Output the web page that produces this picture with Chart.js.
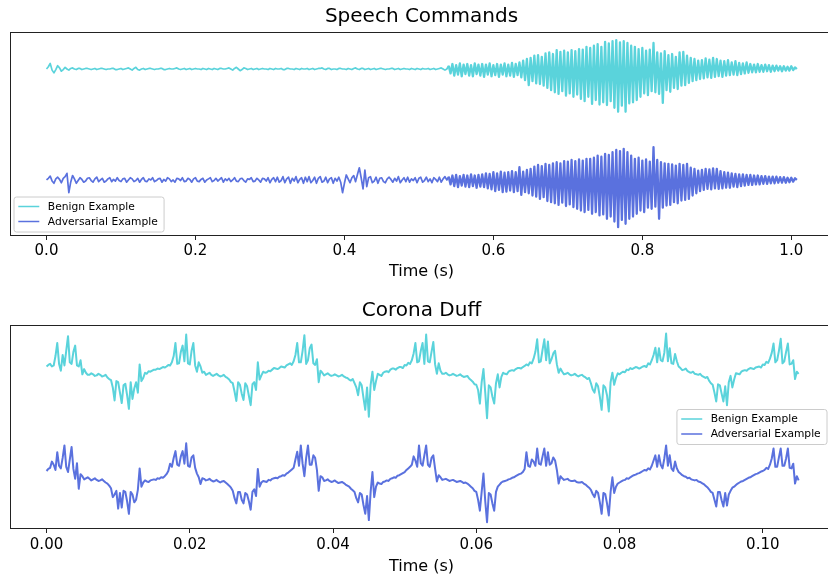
<!DOCTYPE html>
<html>
<head>
<meta charset="utf-8">
<title>Speech Commands / Corona Duff</title>
<script src="https://cdn.jsdelivr.net/npm/chart.js@4.4.1/dist/chart.umd.min.js"></script>
<style>
    html, body { margin: 0; padding: 0; background: #fff; overflow: hidden; }
    body { width: 828px; height: 578px; position: relative; }
    canvas { position: absolute; left: 0; }
    #speech { top: 0; }
    #corona { top: 290px; }
</style>
</head>
<body>
<canvas id="speech" width="840" height="290"></canvas>
<canvas id="corona" width="840" height="288"></canvas>
<script>
const FONT = '"DejaVu Sans", sans-serif';
const BENIGN_COLOR = '#5ad3db';
const ADV_COLOR = '#5a71de';
const SERIES_NAMES = ['Benign Example', 'Adversarial Example'];
const TRACE_OFFSET = 100;   // benign drawn at +offset, adversarial at -offset

// ---- Speech Commands (seconds), one value every 2.5 ms ----
// quiet part runs 0 .. 0.5375 s, loud part starts at 0.54 s
const speechStep = 0.0025;
const speechLoudStart = 0.54;
const speechTicks = [0, 0.2, 0.4, 0.6, 0.8, 1.0];

const speechBenignQuiet = [
    0, 4, 10, -2, -7, -1, 6, 2, -4, -1, 3, 0, -2, 1, 2, 0, -1, 1, 1, -1,
    0, 1, 1, 0, -1, 0, 1, -1, 0, 1, 1, 0, -1, 0, 0, 1, 1, -1, -1, 0,
    1, -1, 0, 1, 2, 0, -2, 1, 3, -1, -2, 0, 1, -1, 0, 1, 1, 0, -1, 0,
    0, 1, 1, -1, -1, 0, 1, 0, 0, 1, 2, 0, -1, 0, 1, -1, 0, 1, -1, 0,
    1, 0, 0, -1, 1, 0, -1, 1, 0, -1, 1, 0, -1, 1, 1, 0, 0, 1, 2, 0,
    -2, 1, 3, 0, -3, -1, 2, 1, -1, 0, 1, -1, 0, 1, -1, 0, 1, 0, 0, -1,
    1, 0, -1, 1, 0, 0, 1, -1, -1, 1, 1, 0, 0, -1, 1, 0, -1, 1, 0, 0,
    1, -1, 0, 1, -1, 0, 1, 1, 2, 0, -1, 1, 1, -1, 0, 0, -1, 1, 1, 0,
    0, -1, 1, 0, -1, 1, 2, 0, -1, 1, 1, -1, 0, 1, -1, 0, 1, -1, 0, 1,
    1, 0, -1, 0, 0, 1, 1, -1, 0, 1, -1, 0, 1, 0, 0, -1, 1, 0, -1, 1,
    0, -1, 1, 0, 0, 1, -1, 0, 1, -1, 0, 1, 2, 0, -2, 0
];
const speechBenignLoud = [
    6, -8, 9, -12, 7, -10, 10, -13, 8, -9,
    9, -12, 7, -13, 10, -9, 8, -12, 9, -14,
    8, -10, 10, -13, 7, -11, 9, -14, 8, -10,
    10, -13, 8, -12, 11, -14, 9, -11, 12, -15,
    15, -20, 18, -29, 20, -22, 24, -26, 25, -27,
    22, -30, 28, -34, 30, -38, 27, -42, 34, -45,
    31, -40, 33, -48, 30, -44, 34, -50, 32, -46,
    36, -54, 35, -58, 40, -50, 38, -63, 42, -56,
    45, -64, 40, -60, 49, -65, 46, -58, 50, -70,
    52, -77, 48, -66, 50, -77, 47, -62, 42, -60,
    40, -56, 36, -50, 38, -44, 33, -47, 35, -40,
    47, -42, 30, -45, 28, -61, 32, -38, 25, -41,
    27, -34, 22, -36, 30, -30, 31, -29, 24, -25,
    20, -22, 18, -20, 15, -18, 16, -17, 19, -15,
    17, -16, 20, -14, 18, -13, 15, -14, 14, -12,
    16, -11, 12, -10, 14, -11, 11, -9, 10, -8,
    12, -7, 9, -6, 8, -6, 9, -5, 7, -5,
    8, -4, 7, -5, 6, -4, 6, -3, 5, -4,
    5, -3, 4, -3, 5, -2, 3, 0
];
const speechAdvQuiet = [
    0, 3, 7, -2, -6, 2, 5, 1, -5, 3, 6, 12, -23, -4, 8, 2, -6, -1, 4, 1,
    -4, -2, 3, 4, -1, -4, 2, 5, -3, 0, 3, -4, -2, 2, 4, -3, 1, -2, 4, -1,
    -3, 2, 3, -4, 0, 4, 2, -3, -1, 3, -4, 1, 4, -2, -3, 2, 0, 4, -3, -1,
    2, 3, -4, 1, -2, 4, 2, -3, 0, -4, 3, 2, -1, 4, -3, -2, 3, 1, -4, 2,
    4, -2, -3, 1, 3, -4, 0, 2, 4, -3, -1, 3, -2, 1, 4, -4, 2, -1, 3, -3,
    0, 4, -2, -3, 2, 3, -1, -4, 2, 1, 4, -3, -2, 3, 0, -4, 3, 2, -2, 4,
    -5, 1, 4, -3, 5, -4, -1, 6, -5, 2, 5, -6, 3, -2, 6, -5, 1, 4, -6, 5,
    -3, 6, -5, -1, 5, -6, 3, 6, -4, -2, 5, -5, 2, 4, -6, 3, -2, 5, -4, -23,
    -6, 9, 2, -5, 4, 8, -3, 10, 22, 4, -16, 18, -12, 4, 6, -5, -2, 5, -6, 3,
    4, -3, -5, 2, 5, 1, -4, 3, -2, 6, -5, 0, 4, -3, 5, -4, 2, -1, 4, -5,
    3, 5, -4, -1, 5, -3, 2, -5, 4, 1, -3, 5, -4, 2, 6, 0
];
const speechAdvLoud = [
    6, -8, 8, -11, 9, -13, 7, -10, 9, -12,
    8, -13, 10, -11, 8, -14, 9, -12, 10, -13,
    12, -15, 11, -17, 14, -20, 12, -18, 15, -22,
    13, -21, 14, -19, 16, -22, 14, -20, 23, -27,
    15, -22, 18, -24, 20, -28, 24, -30, 27, -34,
    25, -31, 29, -38, 27, -40, 30, -42, 32, -45,
    30, -41, 34, -47, 33, -44, 36, -49, 34, -52,
    37, -55, 35, -58, 38, -54, 38, -61, 40, -58,
    44, -64, 42, -62, 47, -70, 45, -66, 50, -75,
    54, -85, 52, -72, 56, -79, 50, -70, 44, -66,
    38, -61, 40, -55, 35, -58, 37, -50, 33, -52,
    59, -48, 36, -70, 32, -50, 30, -46, 29, -45,
    28, -40, 26, -42, 29, -37, 27, -36, 29, -34,
    22, -28, 20, -24, 17, -20, 18, -18, 20, -16,
    19, -17, 21, -15, 20, -16, 16, -15, 14, -14,
    13, -14, 12, -12, 11, -13, 10, -11, 10, -10,
    9, -9, 9, -9, 8, -8, 8, -8, 7, -7,
    7, -7, 6, -6, 6, -6, 6, -5, 5, -5,
    5, -5, 4, -4, 4, -3, 3, 0
];

// ---- Corona Duff (seconds), one value every 0.25 ms ----
const coronaStep = 0.00025;
const coronaTicks = [0, 0.02, 0.04, 0.06, 0.08, 0.10];

const coronaBenign = [
    0, 3, 5, 0, 2, 20, 45, 5, -8, 22, 2, 30, 58, 8, 5, 28, 40, 2, 0, 12,
    -15, -5, -12, -16, -16, -13, -15, -18, -17, -14, -16, -19, -18, -16, -21, -24, -26, -40, -65, -28,
    -30, -50, -70, -36, -33, -55, -81, -30, -62, -42, -30, -50, 4, -28, -22, -12, -14, -9, -10, -8,
    -6, -6, -4, -5, -3, -1, -2, 0, 3, 2, 8, 20, 45, 5, 6, 28, 40, 10, 61, 6,
    4, 30, 45, 2, -10, 8, 0, -12, -10, -16, -14, -12, -16, -18, -16, -14, -17, -19, -18, -16,
    -20, -22, -25, -30, -32, -48, -66, -30, -35, -52, -64, -32, -38, -56, -74, -34, -30, -45, 8, -25,
    -17, -10, -12, -11, -8, -9, -6, -3, -4, -5, -3, 0, -1, -2, 2, 4, 6, 3, 10, 22,
    45, 8, 8, 30, 60, 5, 12, 35, 42, 6, 3, 14, -30, -8, -12, -17, -15, -13, -16, -18,
    -17, -15, -17, -19, -18, -16, -19, -21, -22, -25, -27, -24, -32, -40, -55, -30, -36, -60, -83, -40,
    -96, -35, -10, -45, -28, -14, -16, -18, -12, -10, -9, -11, -6, -4, -4, -6, -3, -1, -1, -3,
    3, 2, 7, 5, 12, 25, 45, 8, 10, 30, 45, 5, 61, 10, 8, 28, 47, 4, -14, 6,
    -8, -14, -14, -12, -15, -17, -16, -14, -16, -18, -17, -15, -18, -20, -19, -18, -23, -26, -29, -34,
    -35, -45, -71, -30, -5, -50, -99, -36, -40, -58, -71, -32, -15, -40, -20, -12, -14, -15, -10, -8,
    -7, -8, -5, -3, -3, -4, -1, 1, 4, 2, 8, 6, 15, 28, 52, 8, 10, 32, 52, 12,
    48, 6, 14, 25, 30, 4, -12, -4, -10, -15, -14, -12, -15, -17, -16, -14, -17, -19, -17, -16,
    -19, -21, -24, -22, -32, -44, -50, -32, -38, -58, -83, -36, -40, -55, -86, -30, -12, -35, -22, -13,
    -15, -12, -10, -11, -6, -7, -3, -5, -3, -1, -2, -4, -2, 0, 1, -1, 6, 4, 12, 22,
    36, 8, 35, 12, 10, 26, 63, 10, 35, 6, 5, 24, 10, 0, -3, -7, -6, -4, -9, -11,
    -12, -10, -14, -15, -16, -14, -18, -20, -22, -20, -27, -32, -35, -50, -67, -34, -36, -52, -67, -38,
    -74, -30, -18, -40, -25, -13, -14, -15, -10, -8, -7, -8, -5, -3, -4, -5, -2, -1, 0, -2,
    4, 3, 9, 7, 15, 26, 44, 8, 12, 30, 53, 6, 10, 28, 44, 4, 5, 12, -24, -10,
    -14
];
const coronaAdv = [
    0, 4, 6, 18, 12, 2, 36, 10, 5, 25, 49, 8, -2, 22, 46, 4, -15, 15, -34, -6,
    -10, -16, -14, -12, -15, -18, -16, -14, -17, -19, -18, -16, -19, -22, -24, -28, -33, -50, -45, -38,
    -72, -42, -70, -38, -40, -58, -82, -40, -45, -60, -55, -36, 5, -30, -22, -18, -20, -21, -18, -17,
    -16, -17, -14, -15, -12, -13, -10, -6, 0, 14, 8, 25, 38, 12, 10, 28, 38, 14, 53, 10,
    8, 26, 30, 6, -5, -12, -25, -14, -15, -18, -17, -15, -18, -20, -19, -17, -20, -22, -20, -19,
    -22, -25, -28, -32, -38, -52, -62, -40, -40, -55, -62, -42, -45, -58, -74, -40, -35, -48, 4, -30,
    -22, -19, -20, -21, -17, -18, -15, -14, -13, -14, -11, -10, -8, -9, -5, -3, 0, 3, 6, 22,
    37, 10, 49, 14, -10, 25, 49, 12, 12, 30, 25, 2, -38, -10, -12, -19, -18, -16, -19, -21,
    -20, -18, -21, -23, -22, -21, -23, -26, -28, -30, -34, -37, -40, -52, -60, -42, -45, -65, -82, -48,
    -94, -40, -2, -50, -30, -22, -24, -25, -21, -20, -18, -19, -15, -14, -12, -13, -9, -8, -6, -4,
    -2, 2, 5, 8, 12, 28, 20, 8, 49, 15, 10, 30, 49, 12, 8, 25, 30, 4, -20, -8,
    -12, -17, -16, -15, -17, -19, -18, -17, -19, -21, -20, -19, -21, -23, -22, -24, -27, -30, -33, -38,
    -40, -55, -76, -40, -5, -58, -98, -42, -45, -62, -76, -40, -30, -26, -22, -20, -19, -18, -16, -15,
    -13, -12, -10, -8, -6, -5, -2, 4, 36, 10, 8, 22, 18, 10, 43, 14, 12, 28, 43, 10,
    36, 12, 15, 26, 20, 2, -24, -10, -14, -17, -16, -15, -18, -19, -19, -18, -21, -22, -22, -21,
    -24, -26, -29, -32, -36, -44, -50, -38, -42, -60, -82, -42, -44, -62, -85, -40, -12, -42, -30, -24,
    -22, -20, -18, -17, -14, -15, -12, -10, -8, -7, -5, -4, -2, 0, 2, 1, 5, 3, 10, 20,
    30, 8, 30, 12, 5, 24, 49, 10, 30, 5, 0, 18, 5, -2, -5, -8, -10, -11, -14, -13,
    -16, -17, -18, -17, -20, -21, -23, -25, -28, -31, -35, -40, -42, -55, -68, -40, -40, -56, -68, -42,
    -66, -45, -38, -32, -30, -27, -24, -22, -20, -19, -17, -15, -13, -12, -10, -8, -6, -5, -3, -1,
    0, 2, 6, 4, 12, 24, 43, 8, 8, 26, 43, 10, 10, 24, 43, 6, 5, 14, -24, -10,
    -18
];

// turn a run of evenly spaced values into {x, y} points
function toPoints(values, start, step, offset) {
    return values.map((v, i) => ({ x: start + i * step, y: offset + v }));
}

// axes frame like matplotlib spines
const framePlugin = {
    id: 'frame',
    afterDraw(chart) {
        const { ctx, chartArea: a } = chart;
        ctx.save();
        ctx.strokeStyle = '#222';
        ctx.lineWidth = 1;
        ctx.strokeRect(a.left + 0.5, a.top + 0.5, a.right - a.left - 1, a.bottom - a.top - 1);
        ctx.restore();
    }
};

// boxed legend drawn inside the plot area
const boxLegend = {
    id: 'boxLegend',
    afterDraw(chart, args, opts) {
        const { ctx, chartArea: a } = chart;
        const sets = chart.data.datasets;
        ctx.save();
        ctx.font = '10.7px ' + FONT;
        const textW = Math.max(...sets.map(d => ctx.measureText(d.label).width));
        const pad = 4.3, handle = 21, gap = 8.5, rowH = 15;
        const w = pad * 2 + handle + gap + textW + 2;
        const h = 35;
        let x, y;
        if (opts.loc === 'lower left') {
            x = a.left + 4;
            y = a.bottom - 4 - h;
        } else {
            x = a.right - 6 - w;
            y = (a.top + a.bottom) / 2 - h / 2;
        }
        const r = 2.5;
        ctx.beginPath();
        ctx.moveTo(x + r, y);
        ctx.lineTo(x + w - r, y);
        ctx.quadraticCurveTo(x + w, y, x + w, y + r);
        ctx.lineTo(x + w, y + h - r);
        ctx.quadraticCurveTo(x + w, y + h, x + w - r, y + h);
        ctx.lineTo(x + r, y + h);
        ctx.quadraticCurveTo(x, y + h, x, y + h - r);
        ctx.lineTo(x, y + r);
        ctx.quadraticCurveTo(x, y, x + r, y);
        ctx.closePath();
        ctx.fillStyle = 'rgba(255,255,255,0.8)';
        ctx.fill();
        ctx.strokeStyle = '#cccccc';
        ctx.lineWidth = 1;
        ctx.stroke();

        sets.forEach((d, i) => {
            const cy = y + 9.5 + i * rowH;
            ctx.beginPath();
            ctx.moveTo(x + pad, cy);
            ctx.lineTo(x + pad + handle, cy);
            ctx.strokeStyle = d.borderColor;
            ctx.lineWidth = 1.5;
            ctx.stroke();
            ctx.fillStyle = '#000';
            ctx.textBaseline = 'middle';
            ctx.textAlign = 'left';
            ctx.fillText(d.label, x + pad + handle + gap, cy + 0.5);
        });
        ctx.restore();
    }
};

function makePanel(canvasId, cfg) {
    const datasets = [
        { label: SERIES_NAMES[0], data: cfg.benign, borderColor: BENIGN_COLOR, borderWidth: cfg.lineWidth },
        { label: SERIES_NAMES[1], data: cfg.adversarial, borderColor: ADV_COLOR, borderWidth: cfg.lineWidth }
    ];
    datasets.forEach(d => {
        if (cfg.thickFrom !== undefined) {
            // the loud part is drawn a bit heavier so the dense strokes merge
            d.segment = { borderWidth: c => (c.p0.parsed.x >= cfg.thickFrom ? cfg.thickWidth : cfg.lineWidth) };
        }
    });
    return new Chart(document.getElementById(canvasId), {
        type: 'line',
        data: { datasets },
        options: {
            responsive: false,
            animation: false,
            devicePixelRatio: 1,
            layout: { padding: { left: 10, right: 7, top: 0, bottom: 0 } },
            elements: {
                point: { radius: 0 },
                line: { tension: 0, borderJoinStyle: 'round', fill: false }
            },
            plugins: {
                legend: { display: false },
                tooltip: { enabled: false },
                title: {
                    display: true,
                    text: cfg.title,
                    color: '#000',
                    font: { family: FONT, size: 20, weight: 'normal' },
                    padding: cfg.titlePad
                },
                boxLegend: { loc: cfg.legendLoc }
            },
            scales: {
                x: {
                    type: 'linear',
                    min: cfg.xMin,
                    max: cfg.xMax,
                    afterFit: s => { s.height = cfg.axisHeight; },
                    afterBuildTicks: s => { s.ticks = cfg.ticks.map(v => ({ value: v })); },
                    ticks: {
                        callback: v => v.toFixed(cfg.decimals),
                        color: '#000',
                        font: { family: FONT, size: 15 },
                        padding: cfg.tickPad,
                        maxRotation: 0,
                        autoSkip: false
                    },
                    grid: { drawOnChartArea: false, drawTicks: true, tickLength: 4, color: '#222', lineWidth: 1 },
                    border: { display: false },
                    title: {
                        display: true,
                        text: 'Time (s)',
                        color: '#000',
                        font: { family: FONT, size: 16 },
                        padding: { top: 0, bottom: cfg.labelPad }
                    }
                },
                y: { display: false, min: cfg.yMin, max: cfg.yMax }
            }
        },
        plugins: [framePlugin, boxLegend]
    });
}

const speechBenign = toPoints(speechBenignQuiet, 0, speechStep, TRACE_OFFSET)
    .concat(toPoints(speechBenignLoud, speechLoudStart, speechStep, TRACE_OFFSET));
const speechAdv = toPoints(speechAdvQuiet, 0, speechStep, -TRACE_OFFSET)
    .concat(toPoints(speechAdvLoud, speechLoudStart, speechStep, -TRACE_OFFSET));

makePanel('speech', {
    title: 'Speech Commands',
    benign: speechBenign,
    adversarial: speechAdv,
    lineWidth: 1.7,
    thickFrom: speechLoudStart, thickWidth: 2.3,
    xMin: -0.049, xMax: 1.056,
    yMin: -201, yMax: 166.7,
    ticks: speechTicks, decimals: 1,
    titlePad: { top: 5, bottom: 3 },
    axisHeight: 54, tickPad: 2.5, labelPad: 8.4,
    legendLoc: 'lower left'
});

makePanel('corona', {
    title: 'Corona Duff',
    benign: toPoints(coronaBenign, 0, coronaStep, TRACE_OFFSET),
    adversarial: toPoints(coronaAdv, 0, coronaStep, -TRACE_OFFSET),
    lineWidth: 2.0,
    xMin: -0.0051, xMax: 0.1098,
    yMin: -211, yMax: 179.4,
    ticks: coronaTicks, decimals: 2,
    titlePad: { top: 8.5, bottom: 2.5 },
    axisHeight: 49, tickPad: 3.5, labelPad: 1.4,
    legendLoc: 'center right'
});
</script>
</body>
</html>
